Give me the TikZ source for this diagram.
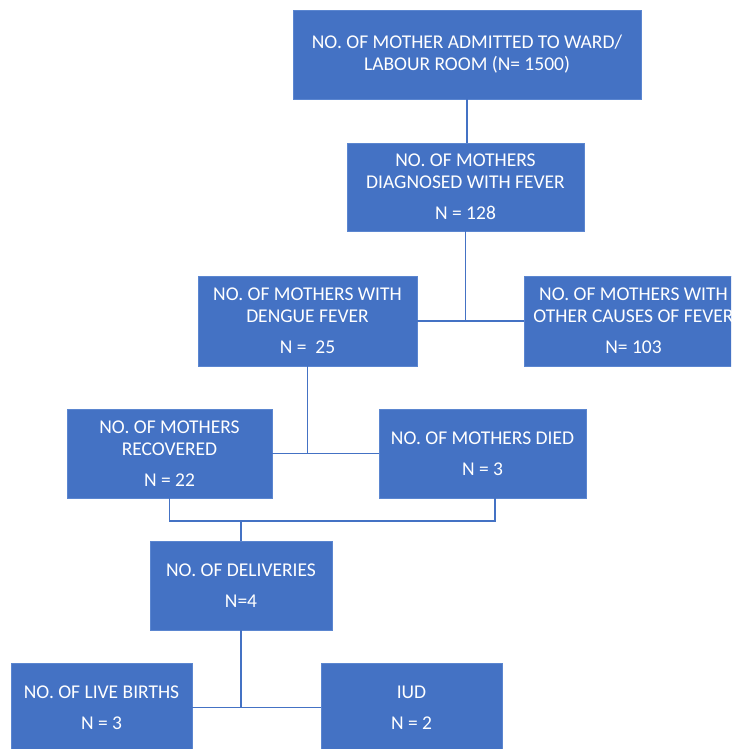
\documentclass[tikz,border=0pt]{standalone}
\usepackage{fontspec}
\setmainfont{Carlito}
\usepackage{tikz}
\usetikzlibrary{positioning}
\definecolor{boxblue}{HTML}{4472C4}
\definecolor{edgeblue}{HTML}{5B86D0}

\begin{document}
\begin{tikzpicture}[x=1pt, y=1pt,
    box/.style={fill=boxblue, draw=edgeblue, line width=0.8pt, text=white, align=center, inner sep=0pt, minimum height=89pt, font=\fontsize{19.5}{22}\selectfont},
    link/.style={draw=boxblue, line width=1.4pt}]
  \useasboundingbox (0,0) rectangle (731,-749);
  \clip (0,0) rectangle (731,-749);
  \node[box, minimum width=348pt] (admit) at (467,-54.5) {NO. OF MOTHER ADMITTED TO WARD/\\LABOUR ROOM (N= 1500)};
  \node[box, minimum width=237pt, minimum height=88pt] (fever) at (465.5,-187) {NO. OF MOTHERS\\DIAGNOSED WITH FEVER\\[9pt]N = 128};
  \node[box, minimum width=219pt, minimum height=90pt] (dengue) at (307.5,-321) {NO. OF MOTHERS WITH\\DENGUE FEVER\\[9pt]N =\ \ 25};
  \node[box, minimum width=219pt, minimum height=90pt] (other) at (633.5,-321) {NO. OF MOTHERS WITH\\OTHER CAUSES OF FEVER\\[9pt]N= 103};
  \node[box, minimum width=205pt] (recov) at (169.5,-453.5) {NO. OF MOTHERS\\RECOVERED\\[9pt]N = 22};
  \node[box, minimum width=207pt] (died) at (482.5,-453.5) {NO. OF MOTHERS DIED\\[9pt]N = 3};
  \node[box, minimum width=182pt] (deliv) at (241,-585.5) {NO. OF DELIVERIES\\[9pt]N=4};
  \node[box, minimum width=181pt] (live) at (101.5,-707.5) {NO. OF LIVE BIRTHS\\[9pt]N = 3};
  \node[box, minimum width=181pt] (iud) at (411.5,-707.5) {IUD\\[9pt]N = 2};
  \coordinate (join) at (241,-521);
  \draw[link] (admit.south) -- (admit.south |- fever.north);
  \draw[link] (dengue.east) -- (other.west);
  \draw[link] (fever.south) -- (fever.south |- dengue.east);
  \draw[link] (recov.east) -- (died.west);
  \draw[link] (dengue.south) -- (dengue.south |- recov.east);
  \draw[link] (recov.south) |- (join) -- (deliv.north);
  \draw[link] ([xshift=12.5pt]died.south) |- (join);
  \draw[link] (live.east) -- (iud.west);
  \draw[link] (deliv.south) -- (deliv.south |- live.east);
\end{tikzpicture}
\end{document}
